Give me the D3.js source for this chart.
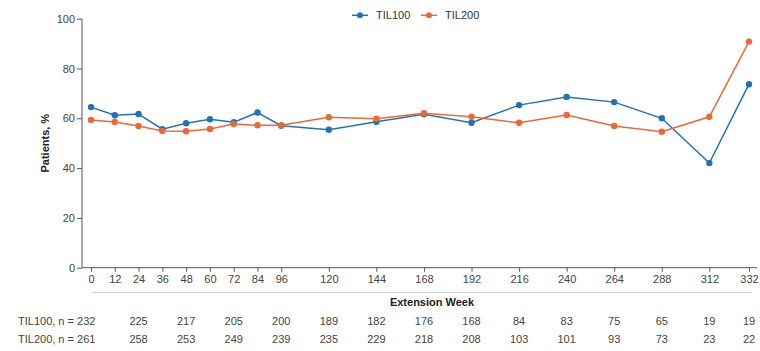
<!DOCTYPE html>
<html><head><meta charset="utf-8">
<script src="https://cdn.jsdelivr.net/npm/d3@7"></script>
<style>
html,body{margin:0;padding:0;background:#fff;}
svg{display:block;font-family:"Liberation Sans",Arial,sans-serif;}
</style></head>
<body>
<svg id="c" width="760" height="351"></svg>
<script>
const weeks = [0,12,24,36,48,60,72,84,96,120,144,168,192,216,240,264,288,312,332];
const til100 = [64.5,61.2,61.7,55.6,58.0,59.6,58.4,62.3,57.0,55.4,58.6,61.6,58.2,65.3,68.6,66.5,60.0,42.0,73.7];
const til200 = [59.3,58.5,56.9,54.9,54.8,55.7,57.7,57.2,57.2,60.4,59.8,62.0,60.6,58.2,61.3,56.9,54.6,60.6,90.8];
const yTicks = [0,20,40,60,80,100];
const seriesNames = ["TIL100","TIL200"];
const colors = ["#2272b4","#e8693a"];
const nWeeks = [24,48,72,96,120,144,168,192,216,240,264,288,312,332];
const n100 = [225,217,205,200,189,182,176,168,84,83,75,65,19,19];
const n200 = [258,253,249,239,235,229,218,208,103,101,93,73,23,22];
const rowLabels = ["TIL100, n = 232","TIL200, n = 261"];

const svg = d3.select("#c");
const x = d3.scaleLinear().domain([0,332]).range([91,749]);
const y = d3.scaleLinear().domain([0,100]).range([267.7,18.7]);
const axisColor = "#555";

// y axis
const yAx = svg.append("g").attr("transform","translate(82,0)")
  .call(d3.axisLeft(y).tickValues(yTicks).tickSize(5).tickPadding(2));
yAx.select(".domain").attr("stroke",axisColor).attr("d","M0,"+y(100)+"V"+y(0));
yAx.selectAll(".tick line").attr("stroke",axisColor);
yAx.selectAll("text").attr("font-size",11).attr("fill","#444").attr("font-family","Liberation Sans, Arial, sans-serif");

// x axis
const xAx = svg.append("g").attr("transform","translate(0,"+y(0)+")")
  .call(d3.axisBottom(x).tickValues(weeks).tickSize(4).tickPadding(4).tickSizeOuter(0));
xAx.select(".domain").attr("stroke",axisColor).attr("d","M82,0H757");
xAx.selectAll(".tick line").attr("stroke",axisColor);
xAx.selectAll("text").attr("font-size",11).attr("fill","#444").attr("font-family","Liberation Sans, Arial, sans-serif");

// separator line
svg.append("line").attr("x1",x(0)).attr("x2",752).attr("y1",292.7).attr("y2",292.7)
  .attr("stroke","#ccc").attr("stroke-width",1);

// axis titles
svg.append("text").attr("x",432).attr("y",306).attr("text-anchor","middle")
  .attr("font-size",11).attr("font-weight","bold").attr("fill","#222").text("Extension Week");
svg.append("text").attr("transform","translate(49,"+y(50)+") rotate(-90)").attr("text-anchor","middle")
  .attr("font-size",11).attr("font-weight","bold").attr("fill","#222").text("Patients, %");

// lines
const data = [til100,til200];
const line = d3.line().x((d,i)=>x(weeks[i])).y(d=>y(d));
data.forEach((vals,k)=>{
  svg.append("path").datum(vals).attr("d",line).attr("fill","none")
    .attr("stroke",colors[k]).attr("stroke-width",1.5);
});
data.forEach((vals,k)=>{
  svg.append("g").selectAll("circle").data(vals).join("circle")
    .attr("cx",(d,i)=>x(weeks[i])).attr("cy",d=>y(d)).attr("r",3.2).attr("fill",colors[k]);
});

// legend
const leg = [{x0:352,tx:376},{x0:421,tx:445}];
seriesNames.forEach((s,k)=>{
  const g = svg.append("g");
  g.append("line").attr("x1",leg[k].x0).attr("x2",leg[k].x0+16).attr("y1",15.3).attr("y2",15.3)
    .attr("stroke",colors[k]).attr("stroke-width",1.5);
  g.append("circle").attr("cx",leg[k].x0+8).attr("cy",15.3).attr("r",3).attr("fill",colors[k]);
  g.append("text").attr("x",leg[k].tx).attr("y",19.3).attr("font-size",11).attr("fill","#333").text(s);
});

// numbers at risk
const rows = [n100,n200];
const rowY = [324.5,343];
rows.forEach((vals,k)=>{
  svg.append("text").attr("x",18).attr("y",rowY[k]).attr("font-size",11).attr("fill","#444").text(rowLabels[k]);
  svg.append("g").selectAll("text").data(vals).join("text")
    .attr("x",(d,i)=>x(nWeeks[i])).attr("y",rowY[k]).attr("text-anchor","middle")
    .attr("font-size",11).attr("fill","#444").text(d=>d);
});
</script>
</body></html>
